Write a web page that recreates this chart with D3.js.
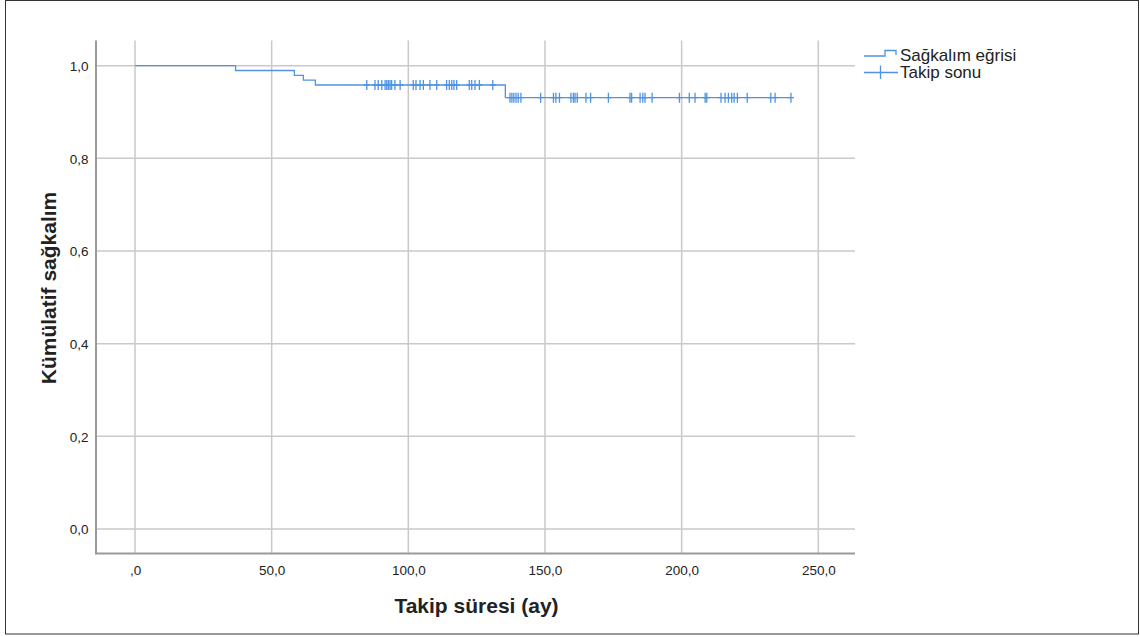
<!DOCTYPE html>
<html>
<head>
<meta charset="utf-8">
<script src="https://cdn.jsdelivr.net/npm/d3@7/dist/d3.min.js"></script>
<style>
  html, body { margin: 0; padding: 0; background: #fff; }
  svg { display: block; }
  text { font-family: "Liberation Sans", Arial, sans-serif; fill: #222; }
</style>
</head>
<body>
<svg id="chart" width="1140" height="637"></svg>
<script>
// Kaplan–Meier survival estimate: event times (months) and survival after each event
const eventTimes = [36.8, 58.3, 61.6, 66.0, 135.5];
const survivalAfter = [0.9896, 0.9792, 0.9688, 0.9583, 0.9310];

// Censored follow-up times (months), marked with "+"
const censorTimes = [
  84.8, 87.8, 89.0, 90.3, 91.5, 92.1, 92.7, 93.3, 93.9, 95.1, 97.0,
  101.8, 102.8, 104.3, 105.5, 107.9, 110.4, 114.0, 115.0, 115.9, 116.7, 117.7,
  122.3, 123.2, 124.4, 126.0, 130.9,
  137.2, 137.9, 138.6, 139.4, 140.2, 141.2, 148.4, 153.1, 154.0, 155.3,
  159.5, 160.4, 161.0, 161.8, 165.0, 166.7, 173.2, 181.1, 181.7,
  184.8, 185.8, 186.6, 189.2, 199.2, 202.8, 204.9, 208.6, 209.2,
  214.4, 215.9, 217.1, 218.3, 219.2, 220.4, 224.0, 232.6, 234.2, 240.0
];

const xTicks = [0, 50, 100, 150, 200, 250];
const yTicks = [0, 0.2, 0.4, 0.6, 0.8, 1.0];
const legendLabels = ["Sağkalım eğrisi", "Takip sonu"];
const xTitle = "Takip süresi (ay)";
const yTitle = "Kümülatif sağkalım";

const plot = { left: 96, right: 855, top: 40.5, bottom: 553.5 };
const curveColor = "#4f93e4";
const gridColor = "#c9c9c9";
const axisColor = "#9a9a9a";

const svg = d3.select("#chart");

// outer frame
svg.append("rect")
  .attr("x", 5.5).attr("y", 0.5)
  .attr("width", 1133).attr("height", 633.5)
  .attr("fill", "none").attr("stroke", "#333").attr("stroke-width", 1);

const x = d3.scaleLinear().domain([0, 250]).range([135, 818.3]);
const y = d3.scaleLinear().domain([0, 1]).range([529, 65.7]);

const xFmt = v => (v === 0 ? ",0" : v.toFixed(1).replace(".", ","));
const yFmt = v => v.toFixed(1).replace(".", ",");

// gridlines
const grid = svg.append("g");
grid.selectAll("line.v").data(xTicks).join("line")
  .attr("x1", d => x(d)).attr("x2", d => x(d))
  .attr("y1", plot.top).attr("y2", plot.bottom)
  .attr("stroke", gridColor).attr("stroke-width", 1.5);
grid.selectAll("line.h").data(yTicks).join("line")
  .attr("x1", plot.left).attr("x2", plot.right)
  .attr("y1", d => y(d)).attr("y2", d => y(d))
  .attr("stroke", gridColor).attr("stroke-width", 1.5);

// axes via d3-axis (labels only; axis lines drawn separately)
const xAxis = d3.axisBottom(x).tickValues(xTicks).tickFormat(xFmt).tickSize(0).tickPadding(0);
const gx = svg.append("g").attr("transform", `translate(0,${plot.bottom})`).call(xAxis);
gx.select(".domain").remove();
gx.selectAll("text")
  .attr("dy", null).attr("y", 21.5)
  .style("font-size", "13.5px").style("font-family", "'Liberation Sans', Arial, sans-serif")
  .attr("fill", "#222");

const yAxis = d3.axisLeft(y).tickValues(yTicks).tickFormat(yFmt).tickSize(0).tickPadding(0);
const gy = svg.append("g").attr("transform", `translate(${plot.left},0)`).call(yAxis);
gy.select(".domain").remove();
gy.selectAll("text")
  .attr("dy", "0.35em").attr("x", -7.5)
  .style("font-size", "13.5px").style("font-family", "'Liberation Sans', Arial, sans-serif")
  .attr("fill", "#222");

// axis lines
svg.append("line")
  .attr("x1", plot.left).attr("x2", plot.left)
  .attr("y1", plot.top).attr("y2", plot.bottom)
  .attr("stroke", axisColor).attr("stroke-width", 2);
svg.append("line")
  .attr("x1", plot.left - 1).attr("x2", plot.right)
  .attr("y1", plot.bottom).attr("y2", plot.bottom)
  .attr("stroke", axisColor).attr("stroke-width", 2);

// survival step function
const lastTime = d3.max(censorTimes);
const steps = [{ t: 0, s: 1 }]
  .concat(eventTimes.map((t, i) => ({ t, s: survivalAfter[i] })))
  .concat([{ t: lastTime, s: survivalAfter[survivalAfter.length - 1] }]);

const line = d3.line().x(d => x(d.t)).y(d => y(d.s)).curve(d3.curveStepAfter);
svg.append("path")
  .datum(steps)
  .attr("d", line)
  .attr("fill", "none")
  .attr("stroke", curveColor)
  .attr("stroke-width", 1.3);

// survival value at time t
const survAt = t => {
  let s = 1;
  eventTimes.forEach((e, i) => { if (e <= t) s = survivalAfter[i]; });
  return s;
};

// censor marks
svg.append("g").selectAll("path").data(censorTimes).join("path")
  .attr("d", t => {
    const cx = x(t), cy = y(survAt(t));
    return `M${cx},${cy - 5}V${cy + 5}M${cx - 3},${cy}H${cx + 3}`;
  })
  .attr("fill", "none")
  .attr("stroke", curveColor)
  .attr("stroke-width", 1.3);

// axis titles
svg.append("text")
  .attr("x", (plot.left + plot.right) / 2 + 1)
  .attr("y", 613)
  .attr("text-anchor", "middle")
  .style("font-size", "21px").style("font-weight", "bold")
  .text(xTitle);

svg.append("text")
  .attr("transform", "translate(55.5,288) rotate(-90)")
  .attr("text-anchor", "middle")
  .style("font-size", "21px").style("font-weight", "bold")
  .text(yTitle);

// legend
const lg = svg.append("g");
lg.append("path")
  .attr("d", "M864,56H885V50.5H896V55")
  .attr("fill", "none").attr("stroke", curveColor).attr("stroke-width", 1.3);
lg.append("path")
  .attr("d", "M864,72.5H898M880.5,65.5V79")
  .attr("fill", "none").attr("stroke", curveColor).attr("stroke-width", 1.3);
lg.selectAll("text").data(legendLabels).join("text")
  .attr("x", 900)
  .attr("y", (d, i) => 60.5 + i * 17)
  .style("font-size", "17px")
  .text(d => d);
</script>
</body>
</html>
